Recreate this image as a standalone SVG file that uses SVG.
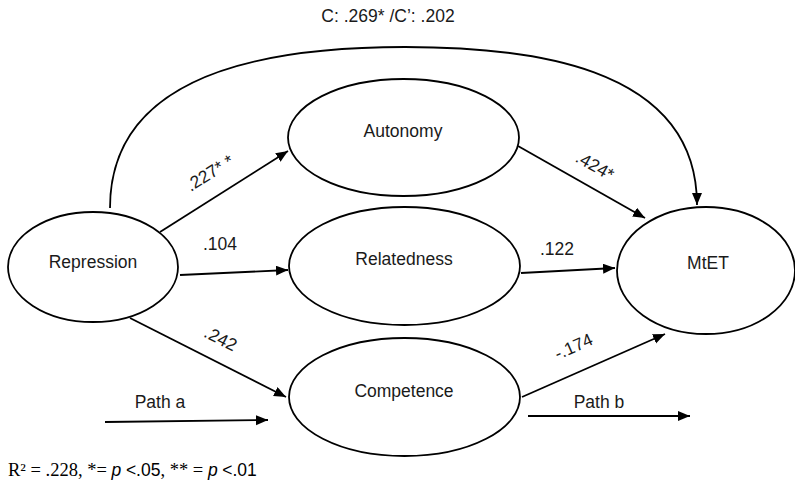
<svg xmlns="http://www.w3.org/2000/svg" width="795" height="482" viewBox="0 0 795 482">
<style>
.node{fill:#fff;stroke:#000;stroke-width:1.8}
.lbl{font-family:"Liberation Sans",Arial,sans-serif;font-size:17.5px;fill:#1a1a1a;text-anchor:middle}
.edge{fill:none;stroke:#000;stroke-width:1.8}
.note{font-family:"Liberation Serif","Times New Roman",serif;font-size:18.5px;fill:#000}
.sans{font-family:"Liberation Sans",Arial,sans-serif;font-size:17.5px}
</style>
<defs>
<marker id="ah" markerUnits="userSpaceOnUse" markerWidth="13" markerHeight="11" refX="12" refY="5" orient="auto">
<path d="M0,0 L12,5 L0,10 z" fill="#000"/>
</marker>
</defs>
<rect width="795" height="482" fill="#fff"/>
<g id="connectors">
<path class="edge" d="M110,208 C110,60 300,47 405,47 C520,47 697,62 697,205" marker-end="url(#ah)"/>
<line class="edge" x1="160" y1="232" x2="288" y2="151" marker-end="url(#ah)"/>
<line class="edge" x1="180" y1="275" x2="288" y2="270" marker-end="url(#ah)"/>
<line class="edge" x1="130" y1="318" x2="286" y2="397" marker-end="url(#ah)"/>
<line class="edge" x1="518" y1="146" x2="645" y2="218" marker-end="url(#ah)"/>
<line class="edge" x1="521" y1="273" x2="615" y2="268" marker-end="url(#ah)"/>
<line class="edge" x1="522" y1="397" x2="665" y2="334" marker-end="url(#ah)"/>
<line class="edge" x1="105" y1="422" x2="268" y2="420" marker-end="url(#ah)"/>
<line class="edge" x1="528" y1="416" x2="690" y2="416" marker-end="url(#ah)"/>
<text class="lbl" x="388" y="22">C: .269* /C’: .202</text>
<text class="lbl" transform="translate(213,178) rotate(-32)">.227* *</text>
<text class="lbl" x="220" y="250">.104</text>
<text class="lbl" transform="translate(218,344) rotate(27)">.242</text>
<text class="lbl" transform="translate(592,171) rotate(29.5)">.424*</text>
<text class="lbl" x="557" y="255">.122</text>
<text class="lbl" transform="translate(576,352) rotate(-24)">-.174</text>
<text class="lbl" x="160" y="408">Path a</text>
<text class="lbl" x="599" y="408">Path b</text>
</g>
<g id="repression">
<ellipse class="node" cx="93" cy="267" rx="85" ry="55"/>
<text class="lbl" x="93" y="268">Repression</text>
</g>
<g id="autonomy">
<ellipse class="node" cx="403.5" cy="137.5" rx="115.5" ry="58.5"/>
<text class="lbl" x="403" y="137">Autonomy</text>
</g>
<g id="relatedness">
<ellipse class="node" cx="404.5" cy="266" rx="115.5" ry="59"/>
<text class="lbl" x="404" y="265">Relatedness</text>
</g>
<g id="competence">
<ellipse class="node" cx="404.5" cy="397" rx="115.5" ry="59"/>
<text class="lbl" x="404" y="397">Competence</text>
</g>
<g id="mtet">
<ellipse class="node" cx="706" cy="270.5" rx="89" ry="63.5"/>
<text class="lbl" x="708" y="269">MtET</text>
</g>
<text class="note" x="8" y="476">R² = .228, *= <tspan class="sans" font-style="italic">p</tspan> <tspan class="sans">&lt;.05</tspan>, ** = <tspan class="sans" font-style="italic">p</tspan> <tspan class="sans">&lt;.01</tspan></text>
</svg>
